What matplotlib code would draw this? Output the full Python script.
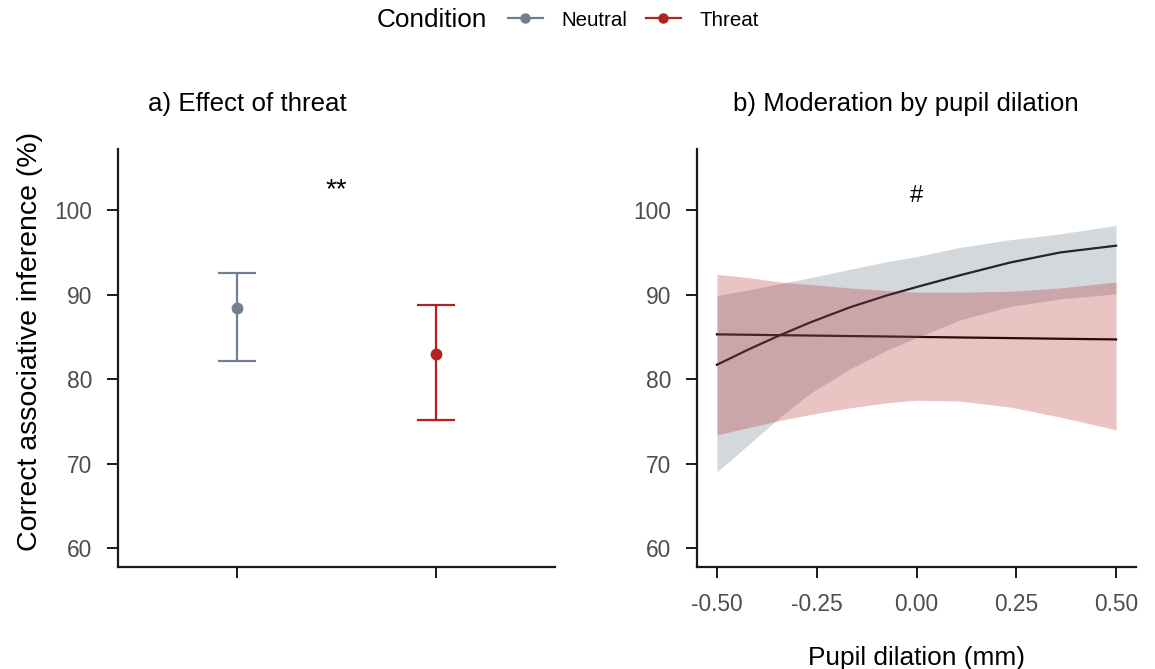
import matplotlib
matplotlib.use("Agg")
import matplotlib.pyplot as plt
from matplotlib.lines import Line2D

plt.rcParams['font.family'] = ['Liberation Sans', 'DejaVu Sans']

# ---- data ----
conditions = ["Neutral", "Threat"]
colors = ["#708090", "#b22222"]
means = [88.4, 83.0]
ci_low = [82.2, 75.1]
ci_high = [92.6, 88.8]

pupil = [-0.500, -0.417, -0.342, -0.267, -0.167, -0.075, 0.000, 0.109, 0.234, 0.360, 0.500]
neutral_fit = [81.7, 83.6, 85.2, 86.7, 88.5, 89.9, 90.9, 92.3, 93.8, 95.0, 95.8]
neutral_hi = [89.9, 90.6, 91.3, 92.0, 93.0, 93.9, 94.5, 95.6, 96.5, 97.2, 98.2]
neutral_lo = [69.0, 72.4, 75.5, 78.3, 81.2, 83.4, 84.9, 87.0, 88.6, 89.5, 90.1]
threat_fit = [85.3, 85.25, 85.2, 85.16, 85.1, 85.05, 85.0, 84.93, 84.86, 84.78, 84.7]
threat_hi = [92.4, 92.0, 91.5, 91.2, 90.8, 90.5, 90.3, 90.3, 90.4, 90.8, 91.5]
threat_lo = [73.4, 74.3, 75.1, 75.8, 76.6, 77.2, 77.5, 77.4, 76.7, 75.5, 74.0]

yticks = [60, 70, 80, 90, 100]
xticks_b = [-0.50, -0.25, 0.00, 0.25, 0.50]

W, H = 1155, 669
fig = plt.figure(figsize=(W / 100, H / 100), dpi=100)

def ax_rect(x0, y0, x1, y1):
    return [x0 / W, 1 - y1 / H, (x1 - x0) / W, (y1 - y0) / H]

axA = fig.add_axes(ax_rect(118, 149, 555, 567))
axB = fig.add_axes(ax_rect(697, 149, 1136, 567))

tick_col = "#4d4d4d"
for ax in (axA, axB):
    for s in ("top", "right"):
        ax.spines[s].set_visible(False)
    for s in ("left", "bottom"):
        ax.spines[s].set_linewidth(1.6)
        ax.spines[s].set_color("#1a1a1a")
    ax.set_ylim(57.75, 107.25)
    ax.set_yticks(yticks)
    ax.tick_params(axis="both", length=8, width=1.4, color="#1a1a1a",
                   labelsize=16.4, labelcolor=tick_col, pad=10.5)

# panel a
xs = [1, 2]
for x, m, lo, hi, c in zip(xs, means, ci_low, ci_high, colors):
    axA.errorbar([x], [m], yerr=[[m - lo], [hi - m]], fmt="o", color=c,
                 ms=7.5, elinewidth=1.6, capsize=13.7, capthick=1.6)
axA.set_xlim(0.4, 2.6)
axA.set_xticks(xs)
axA.set_xticklabels(["", ""])
axA.text(1.5, 102.4, "**", ha="center", va="center", fontsize=20)
axA.set_title("a) Effect of threat", loc="left", fontsize=18.6, pad=27, x=0.068)
axA.set_ylabel("Correct associative inference (%)", fontsize=20.5)
axA.yaxis.set_label_coords(-(118 - 43) / (555 - 118), (567 - 341) / (567 - 149))

# panel b
axB.plot(pupil, neutral_fit, color="black", lw=1.6, zorder=1)
axB.plot(pupil, threat_fit, color="black", lw=1.6, zorder=1)
axB.fill_between(pupil, neutral_lo, neutral_hi, color=colors[0], alpha=0.3,
                 lw=0, zorder=2)
axB.fill_between(pupil, threat_lo, threat_hi, color=colors[1], alpha=0.27,
                 lw=0, zorder=2)
axB.set_xlim(-0.55, 0.55)
axB.set_xticks(xticks_b)
axB.set_xticklabels([f"{v:.2f}" for v in xticks_b])
axB.text(0.0, 101.7, "#", ha="center", va="center", fontsize=17)
axB.set_title("b) Moderation by pupil dilation", loc="left", fontsize=18.6,
              pad=27, x=0.082)
axB.set_xlabel("Pupil dilation (mm)", fontsize=18.9, labelpad=22)

# legend
fig.text(377 / W, 1 - 20 / H, "Condition", ha="left", va="center", fontsize=18.8)
handles = [Line2D([0], [0], color=c, marker="o", ms=6.5, lw=1.6) for c in colors]
fig.legend(handles, conditions, loc="center left",
           bbox_to_anchor=(508 / W, 1 - 20 / H), ncol=2, frameon=False,
           fontsize=14.8, handlelength=1.7, columnspacing=0.93,
           handletextpad=0.88, borderaxespad=0, borderpad=0)

fig.savefig("out.png", dpi=100)
